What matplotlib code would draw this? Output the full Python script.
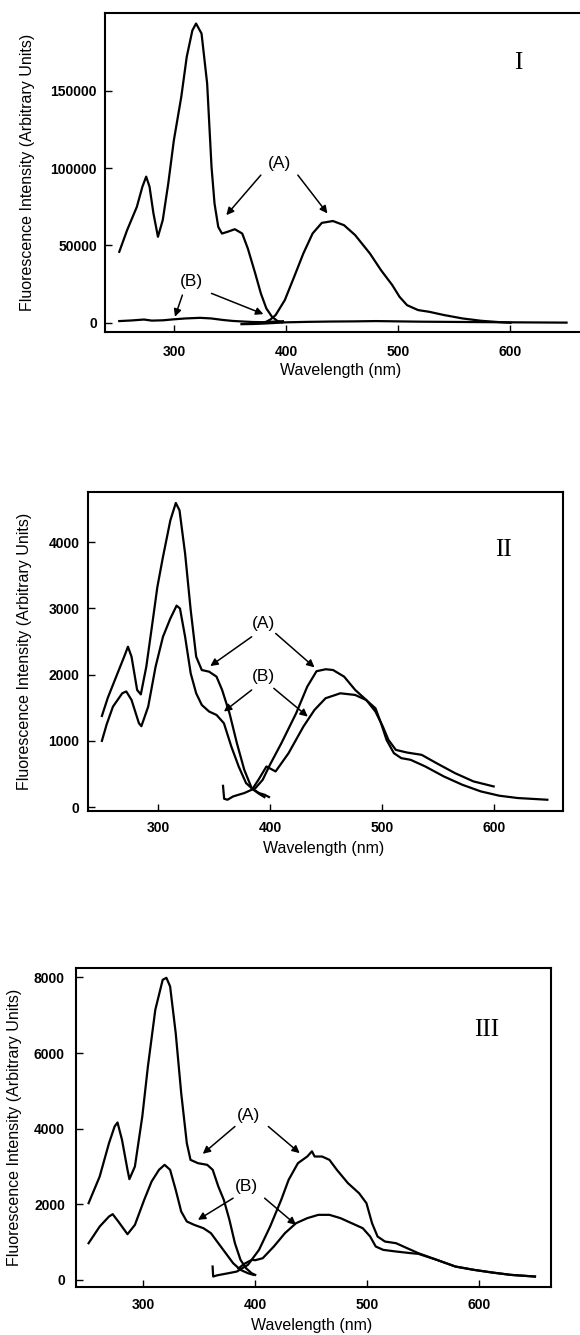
import matplotlib
matplotlib.use("Agg")
import matplotlib.pyplot as plt

plt.rcParams["font.family"] = ["Liberation Sans", "DejaVu Sans"]

# ---- panel I ----
p1_exA_x = [251, 258, 266.7, 271.6, 275, 278, 281.5, 285.5, 289.8, 294.7, 299.7, 306.3,
            311.2, 316.2, 319.5, 324.4, 329.4, 333.3, 336, 339.3, 342.6, 347.5, 354.1,
            360.7, 365.7, 372.3, 377.3, 382.2, 387.2, 392, 396]
p1_exA_y = [45900, 59900, 75000, 87900, 94500, 88000, 70700, 55600, 66400, 90000, 118000,
            146000, 172000, 189000, 193500, 187000, 154700, 100800, 77000, 62000, 57700,
            58800, 60500, 57700, 48000, 31900, 19000, 9300, 3900, 1200, 300]
p1_emA_x = [382, 386, 390.5, 398.7, 407, 415.2, 423.5, 431.7, 441.6, 451.5, 461.4, 474.6,
            484.5, 494.5, 501, 507.7, 517.6, 527.5, 540.7, 557.2, 573.7, 590.2, 600]
p1_emA_y = [600, 2200, 5000, 14700, 29700, 44800, 57800, 64600, 65800, 63100, 56700, 44800,
            34000, 24400, 16800, 11400, 8200, 7100, 5000, 2800, 1300, 400, 0]
p1_exB_x = [251, 262, 273, 280, 290, 299, 310, 323, 333, 343.7, 352, 361.6, 370, 379, 388, 397]
p1_exB_y = [1100, 1500, 2100, 1400, 1600, 2200, 2800, 3200, 2800, 1800, 1200, 800, 500, 400, 700, 1000]
p1_emB_x = [360, 370, 380, 400, 420, 440, 460, 480, 500, 520, 540, 560, 580, 600, 625, 650]
p1_emB_y = [-900, -800, -500, 300, 600, 800, 900, 1100, 900, 700, 600, 500, 400, 300, 200, 100]

# ---- panel II ----
p2_exA_x = [249.7, 255, 261.3, 269.6, 273, 276.2, 281.2, 284.5, 289.4, 294.4, 299.3, 304.3,
            310.9, 315.8, 319.1, 324.1, 329.1, 334, 339, 345.6, 352.2, 357.2, 363.8,
            370.4, 377, 383.6, 390.2, 395.1, 399.1]
p2_exA_y = [1375, 1650, 1918, 2269, 2420, 2269, 1767, 1700, 2118, 2721, 3323, 3775, 4327,
            4590, 4478, 3825, 2972, 2269, 2068, 2043, 1968, 1767, 1416, 964, 562, 286,
            211, 186, 151]
p2_exB_x = [249.7, 254, 259.6, 267.9, 271.5, 276.2, 282.8, 285, 291.1, 297.7, 304.3, 310.9,
            316.5, 319.5, 324.1, 329.1, 334, 339, 345.6, 352.2, 358.8, 365.4, 372, 378.6,
            385.2, 390.2, 395]
p2_exB_y = [999, 1250, 1516, 1717, 1745, 1616, 1265, 1220, 1516, 2118, 2570, 2846, 3040,
            2997, 2570, 2018, 1717, 1541, 1441, 1390, 1265, 914, 612, 361, 261, 200, 150]
p2_emA_x = [358, 359, 362, 367, 377, 387, 393.5, 400, 410.2, 423.4, 433.3, 441.6, 449.9,
            456.4, 466.3, 476.2, 486.1, 494.3, 500.9, 505.9, 512.5, 522.4, 535.6, 548.8,
            565.4, 581.9, 600]
p2_emA_y = [320, 125, 110, 160, 211, 286, 412, 640, 964, 1416, 1817, 2050, 2080, 2068, 1968,
            1767, 1616, 1441, 1215, 1014, 863, 823, 788, 663, 512, 387, 311]
p2_emB_x = [385, 390, 396.8, 405, 416.6, 429.9, 439.8, 449.7, 462.9, 476.1, 486, 494.3,
            499.3, 504.2, 510.8, 517.4, 525.7, 538.9, 555.4, 572, 588.5, 605, 621.5, 648]
p2_emB_y = [290, 420, 612, 537, 813, 1215, 1466, 1642, 1717, 1692, 1616, 1491, 1265, 1014,
            813, 738, 713, 612, 462, 336, 236, 171, 136, 110]

# ---- panel III ----
p3_exA_x = [251.4, 261.3, 269.6, 274.6, 277.2, 281.2, 286.1, 287.8, 292.7, 299.3, 304.3,
            310.9, 317.5, 320.8, 324.1, 329.1, 334, 339, 342.3, 348.9, 357.2, 362.1,
            367.1, 372, 377, 381.9, 386.9, 391.8, 396.8, 400]
p3_exA_y = [2029, 2734, 3616, 4057, 4163, 3704, 2911, 2664, 2999, 4322, 5645, 7144, 7938,
            7990, 7762, 6527, 4939, 3616, 3175, 3087, 3043, 2911, 2470, 2117, 1588, 970,
            529, 309, 176, 132]
p3_exB_x = [251.4, 261.3, 269.6, 272.9, 277.9, 286.1, 292.7, 301, 307.6, 314.2, 319.2,
            324.1, 329.1, 334, 339, 345.6, 353.8, 360.5, 367.1, 373.7, 380.3, 386.9,
            393.5, 398.5]
p3_exB_y = [970, 1411, 1676, 1738, 1544, 1208, 1455, 2117, 2602, 2911, 3043, 2911, 2381,
            1808, 1544, 1455, 1367, 1235, 970, 706, 441, 265, 176, 132]
p3_emA_x = [362, 362.5, 366, 375, 383.6, 393.5, 403.4, 413.3, 423.2, 429.8, 438.1, 446.4,
            450.6, 453, 459.6, 466.2, 472.8, 482.7, 492.6, 499.2, 504.2, 509.1, 515.7,
            525.6, 535.5, 545.5, 562, 578.5, 595, 611.5, 628, 649.5]
p3_emA_y = [353, 88, 120, 170, 220, 397, 794, 1411, 2117, 2646, 3087, 3263, 3400, 3263,
            3263, 3175, 2911, 2558, 2293, 2029, 1499, 1147, 1014, 970, 838, 706, 529,
            353, 265, 194, 132, 88]
p3_emB_x = [385, 390, 396.9, 400, 406.7, 416.6, 426.5, 436.4, 446.4, 456.3, 466.2, 476.1,
            486, 495.9, 502.5, 507.5, 514.1, 525.6, 538.9, 545.5, 562, 578.5, 595, 611.5,
            628, 649.5]
p3_emB_y = [300, 420, 529, 520, 573, 882, 1235, 1499, 1632, 1720, 1720, 1632, 1499, 1367,
            1147, 882, 794, 750, 706, 688, 529, 353, 265, 194, 132, 88]

x_ticks = [300, 400, 500, 600]
p1_yticks = [0, 50000, 100000, 150000]
p2_yticks = [0, 1000, 2000, 3000, 4000]
p3_yticks = [0, 2000, 4000, 6000, 8000]

fig = plt.figure(figsize=(5.8, 13.35), dpi=100)

ax1 = fig.add_axes([0.1805, 0.7515, 0.8195, 0.2384])
ax2 = fig.add_axes([0.1512, 0.3925, 0.8195, 0.2387])
ax3 = fig.add_axes([0.1307, 0.0362, 0.8197, 0.2390])

lw = 1.6
ax1.plot(p1_exA_x, p1_exA_y, color="k", lw=lw)
ax1.plot(p1_emA_x, p1_emA_y, color="k", lw=lw)
ax1.plot(p1_exB_x, p1_exB_y, color="k", lw=lw)
ax1.plot(p1_emB_x, p1_emB_y, color="k", lw=lw)

ax2.plot(p2_exA_x, p2_exA_y, color="k", lw=lw)
ax2.plot(p2_exB_x, p2_exB_y, color="k", lw=lw)
ax2.plot(p2_emA_x, p2_emA_y, color="k", lw=lw)
ax2.plot(p2_emB_x, p2_emB_y, color="k", lw=lw)

ax3.plot(p3_exA_x, p3_exA_y, color="k", lw=lw)
ax3.plot(p3_exB_x, p3_exB_y, color="k", lw=lw)
ax3.plot(p3_emA_x, p3_emA_y, color="k", lw=lw)
ax3.plot(p3_emB_x, p3_emB_y, color="k", lw=lw)

ax1.set_xlim(238, 662)
ax1.set_ylim(-5800, 200000)
ax2.set_xlim(237, 662)
ax2.set_ylim(-60, 4750)
ax3.set_xlim(240, 664)
ax3.set_ylim(-180, 8260)

ax1.set_yticks(p1_yticks)
ax2.set_yticks(p2_yticks)
ax3.set_yticks(p3_yticks)

ax1.spines["right"].set_visible(False)

# (axis, x tick pad, y tick pad, ylabel x, xlabel y)
layout = [(ax1, 9.3, 5.5, -0.147, -0.098),
          (ax2, 7.5, 6.0, -0.118, -0.094),
          (ax3, 8.0, 7.8, -0.114, -0.098)]

for ax, pad_x, pad_y, lab_x, lab_y in layout:
    ax.set_xticks(x_ticks)
    for s in ax.spines.values():
        s.set_linewidth(1.5)
    ax.tick_params(axis="x", direction="in", length=5, width=1, pad=pad_x)
    ax.tick_params(axis="y", direction="in", length=5, width=1, pad=pad_y)
    for t in ax.get_xticklabels() + ax.get_yticklabels():
        t.set_fontsize(10)
        t.set_fontweight("bold")
    ax.set_xlabel("Wavelength (nm)", fontsize=11.5)
    ax.set_ylabel("Fluorescence Intensity (Arbitrary Units)", fontsize=11.5)
    ax.yaxis.set_label_coords(lab_x, 0.5)
    ax.xaxis.set_label_coords(0.496, lab_y)

roman = dict(fontsize=18, family="Liberation Serif", ha="center", va="center")
ax1.text(0.870, 0.844, "I", transform=ax1.transAxes, **roman)
ax2.text(0.874, 0.820, "II", transform=ax2.transAxes, **roman)
ax3.text(0.864, 0.805, "III", transform=ax3.transAxes, **roman)

arrow = dict(arrowstyle="-|>", lw=1.1, color="k", mutation_scale=11, shrinkA=0, shrinkB=0)
lab = dict(fontsize=12.5, ha="center", va="center")


def arr(ax, start, end):
    ax.annotate("", xy=end, xytext=start, arrowprops=arrow)


# panel I labels
ax1.text(393.7, 103000, "(A)", **lab)
arr(ax1, (377.3, 95500), (346.5, 69600))
arr(ax1, (410.3, 95500), (436.7, 70700))
ax1.text(315.5, 26900, "(B)", **lab)
arr(ax1, (307.3, 17900), (300.7, 3900))
arr(ax1, (333.3, 19000), (379.6, 5600))

# panel II labels
ax2.text(394.1, 2771, "(A)", **lab)
arr(ax2, (383.6, 2570), (346.6, 2128))
arr(ax2, (405.1, 2620), (439.8, 2108))
ax2.text(394.1, 1968, "(B)", **lab)
arr(ax2, (383.6, 1767), (358.8, 1441))
arr(ax2, (403.4, 1792), (433.8, 1365))

# panel III labels
ax3.text(394.2, 4339, "(A)", **lab)
arr(ax3, (381.9, 4057), (353.2, 3334))
arr(ax3, (411.7, 4057), (439.7, 3352))
ax3.text(391.8, 2470, "(B)", **lab)
arr(ax3, (380.3, 2161), (348.9, 1588))
arr(ax3, (408.4, 2161), (436.4, 1455))

fig.savefig("out.png", dpi=100)
plt.close(fig)
